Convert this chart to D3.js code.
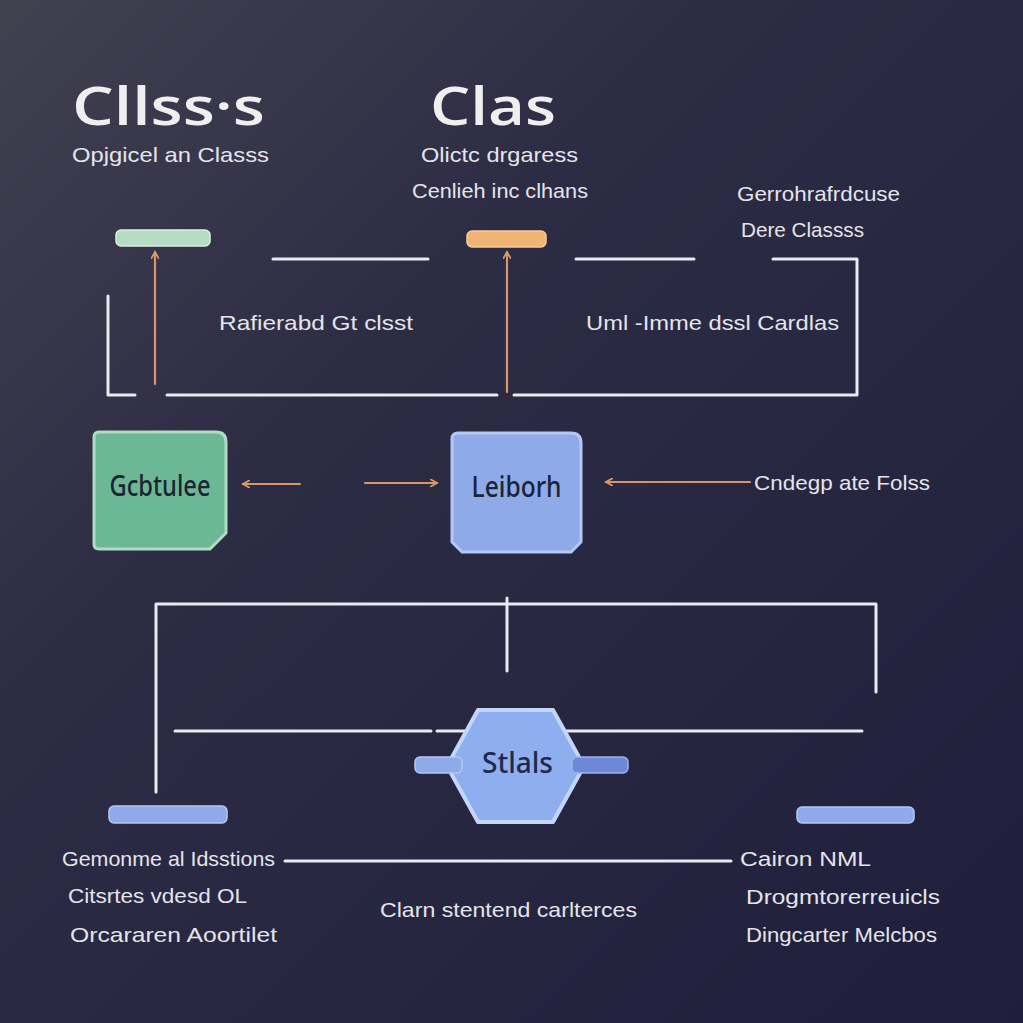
<!DOCTYPE html>
<html>
<head>
<meta charset="utf-8">
<script src="https://cdn.jsdelivr.net/npm/d3@7/dist/d3.min.js"></script>
<style>
html,body{margin:0;padding:0;background:#26253f;}
svg{display:block;}
</style>
</head>
<body>
<div id="chart"></div>
<script>
// ---- diagram content (layout units = reference pixels) ----
const titleLabels = [
  ["Cllss·s", 72, 125, 193],
  ["Clas", 430, 125, 126]
];
const textLabels = [
  ["Opjgicel  an  Classs", 72, 162, 197],
  ["Olictc drgaress", 421, 162, 157],
  ["Cenlieh inc clhans", 412, 198, 176],
  ["Gerrohrafrdcuse", 737, 201, 163],
  ["Dere Classss", 741, 237, 123],
  ["Rafierabd Gt clsst", 219, 330, 194],
  ["Uml -Imme dssl Cardlas", 586, 330, 253],
  ["Cndegp ate Folss", 754, 490, 176],
  ["Gemonme al Idsstions", 62, 866, 213],
  ["Citsrtes vdesd  OL", 68, 903, 179],
  ["Orcararen  Aoortilet", 70, 942, 207],
  ["Clarn stentend carlterces", 380, 917, 257],
  ["Cairon NML", 740, 866, 131],
  ["Drogmtorerreuicls", 746, 904, 194],
  ["Dingcarter Melcbos", 746, 942, 191]
];
// white connector polylines
const connectors = [
  [[273,259],[428,259]],
  [[576,259],[694,259]],
  [[773,259],[857,259],[857,395],[514,395]],
  [[167,395],[497,395]],
  [[108,296],[108,395],[135,395]],
  [[156,792],[156,604],[876,604],[876,692]],
  [[507,598],[507,671]],
  [[175,731],[431,731]],
  [[437,731],[862,731]],
  [[285,861],[731,861]]
];
// orange arrows [from, to] (head at "to")
const arrows = [
  [[155,384],[155,252]],
  [[507,392],[507,252]],
  [[300,484],[243,484]],
  [[365,483],[437,483]],
  [[750,482],[606,482]]
];
// pills [x0, y0, x1, y1, colour key]
const pills = [
  [116,230,210,246,"mint"],
  [467,231,546,247,"orange"],
  [109,806,227,823,"blue"],
  [797,807,914,823,"blue"],
  [415,757,462,773,"blue"],
  [572,757,628,773,"blueDark"]
];
// boxes [x0, y0, x1, y1, label, colour key]
const boxes = [
  [94,432,226,549,"Gcbtulee","green"],
  [452,433,581,552,"Leiborh","blue"]
];
const hexNode = [447,710,584,822,"Stlals"];

const palette = {
  mint:{fill:"#b7dcc6",stroke:"#d8efe0"},
  orange:{fill:"#f0b474",stroke:"#f7cc96"},
  blue:{fill:"#8eaae8",stroke:"#b4c8f4"},
  blueDark:{fill:"#6e88d8",stroke:"#9cb2ec"},
  green:{fill:"#6db894",stroke:"#b0dcc4"},
  hex:{fill:"#8eaef0",stroke:"#c2d6fa"}
};

// ---- drawing ----
const W = 1023, H = 1023;
const x = d3.scaleLinear().domain([0,1023]).range([0,W]);
const y = d3.scaleLinear().domain([0,1023]).range([0,H]);

const svg = d3.select("#chart").append("svg").attr("width",W).attr("height",H);
const defs = svg.append("defs");
const bg = defs.append("linearGradient").attr("id","bg")
  .attr("x1","0").attr("y1","0").attr("x2","1").attr("y2","1");
bg.append("stop").attr("offset","0%").attr("stop-color","#424150");
bg.append("stop").attr("offset","35%").attr("stop-color","#2d2c45");
bg.append("stop").attr("offset","70%").attr("stop-color","#262540");
bg.append("stop").attr("offset","100%").attr("stop-color","#1f1e3b");
svg.append("rect").attr("width",W).attr("height",H).attr("fill","url(#bg)");

defs.append("marker").attr("id","ah").attr("viewBox","0 0 10 10")
  .attr("refX",8).attr("refY",5).attr("markerWidth",4).attr("markerHeight",4)
  .attr("orient","auto-start-reverse").attr("markerUnits","strokeWidth")
  .append("path").attr("d","M1,1 L8,5 L1,9").attr("fill","none")
  .attr("stroke","#de9a66").attr("stroke-width",2).attr("stroke-linecap","round");

const line = d3.line().x(d=>x(d[0])).y(d=>y(d[1]));

svg.append("g").selectAll("path").data(connectors).join("path")
  .attr("d",line).attr("fill","none").attr("stroke","#e9e9f0")
  .attr("stroke-width",3).attr("stroke-linecap","round").attr("stroke-linejoin","round");

svg.append("g").selectAll("path").data(arrows).join("path")
  .attr("d",line).attr("fill","none").attr("stroke","#d99468")
  .attr("stroke-width",2.2).attr("stroke-linecap","round")
  .attr("marker-end","url(#ah)");

// boxes
const boxPath = (d,i) => {
  const x0=x(d[0]), y0=y(d[1]), x1=x(d[2]), y1=y(d[3]);
  if (i===0) {
    return `M${x0+5},${y0} L${x1-10},${y0} Q${x1},${y0} ${x1},${y0+10} L${x1},${y1-16} L${x1-16},${y1} L${x0+5},${y1} Q${x0},${y1} ${x0},${y1-5} L${x0},${y0+5} Q${x0},${y0} ${x0+5},${y0} Z`;
  }
  return `M${x0+6},${y0} L${x1-10},${y0} Q${x1},${y0} ${x1},${y0+10} L${x1},${y1-10} L${x1-10},${y1} L${x0+10},${y1} L${x0},${y1-10} L${x0},${y0+6} Q${x0},${y0} ${x0+6},${y0} Z`;
};
const bg2 = svg.append("g");
bg2.selectAll("path").data(boxes).join("path")
  .attr("d",boxPath)
  .attr("fill",d=>palette[d[5]].fill).attr("stroke",d=>palette[d[5]].stroke)
  .attr("stroke-width",3);
bg2.selectAll("text").data(boxes).join("text")
  .attr("x",d=>x((d[0]+d[2])/2)).attr("y",d=>y(d[1]+64))
  .attr("text-anchor","middle")
  .attr("font-family","'Noto Sans', 'Open Sans', sans-serif")
  .attr("font-size",29).attr("font-weight",500).attr("fill","#1b2436")
  .attr("textLength",(d,i)=> i===0?101:90).attr("lengthAdjust","spacingAndGlyphs")
  .text(d=>d[4]);

// hexagon node
{
  const [x0,y0,x1,y1,label] = hexNode;
  const cy=(y0+y1)/2, inset=31;
  const pts=[[x0+inset,y0],[x1-inset,y0],[x1,cy],[x1-inset,y1],[x0+inset,y1],[x0,cy]];
  svg.append("path").attr("d",d3.line().x(d=>x(d[0])).y(d=>y(d[1]))(pts)+"Z")
    .attr("fill",palette.hex.fill).attr("stroke",palette.hex.stroke)
    .attr("stroke-width",4).attr("stroke-linejoin","round");
}

// pills
svg.append("g").selectAll("rect").data(pills).join("rect")
  .attr("x",d=>x(d[0])).attr("y",d=>y(d[1]))
  .attr("width",d=>x(d[2])-x(d[0])).attr("height",d=>y(d[3])-y(d[1]))
  .attr("rx",5)
  .attr("fill",d=>palette[d[4]].fill).attr("stroke",d=>palette[d[4]].stroke)
  .attr("stroke-width",1.5);

svg.append("text").attr("x",x((hexNode[0]+hexNode[2])/2+2)).attr("y",y(773))
  .attr("text-anchor","middle")
  .attr("font-family","'Noto Sans', 'Open Sans', sans-serif")
  .attr("font-size",29).attr("font-weight",500).attr("fill","#1f2a4a")
  .attr("textLength",71).attr("lengthAdjust","spacingAndGlyphs")
  .text(hexNode[4]);

// titles
svg.append("g").selectAll("text").data(titleLabels).join("text")
  .attr("x",d=>x(d[1])).attr("y",d=>y(d[2]))
  .attr("font-family","'Open Sans', 'Noto Sans', sans-serif")
  .attr("font-size",53).attr("font-weight",600).attr("fill","#efefef")
  .attr("textLength",d=>d[3]).attr("lengthAdjust","spacingAndGlyphs")
  .text(d=>d[0]);

// labels
svg.append("g").selectAll("text").data(textLabels).join("text")
  .attr("x",d=>x(d[1])).attr("y",d=>y(d[2]))
  .attr("font-family","'Liberation Sans', Arial, sans-serif")
  .attr("font-size",21).attr("fill","#e4e4ea")
  .attr("textLength",d=>d[3]).attr("lengthAdjust","spacingAndGlyphs")
  .text(d=>d[0]);
</script>
</body>
</html>
